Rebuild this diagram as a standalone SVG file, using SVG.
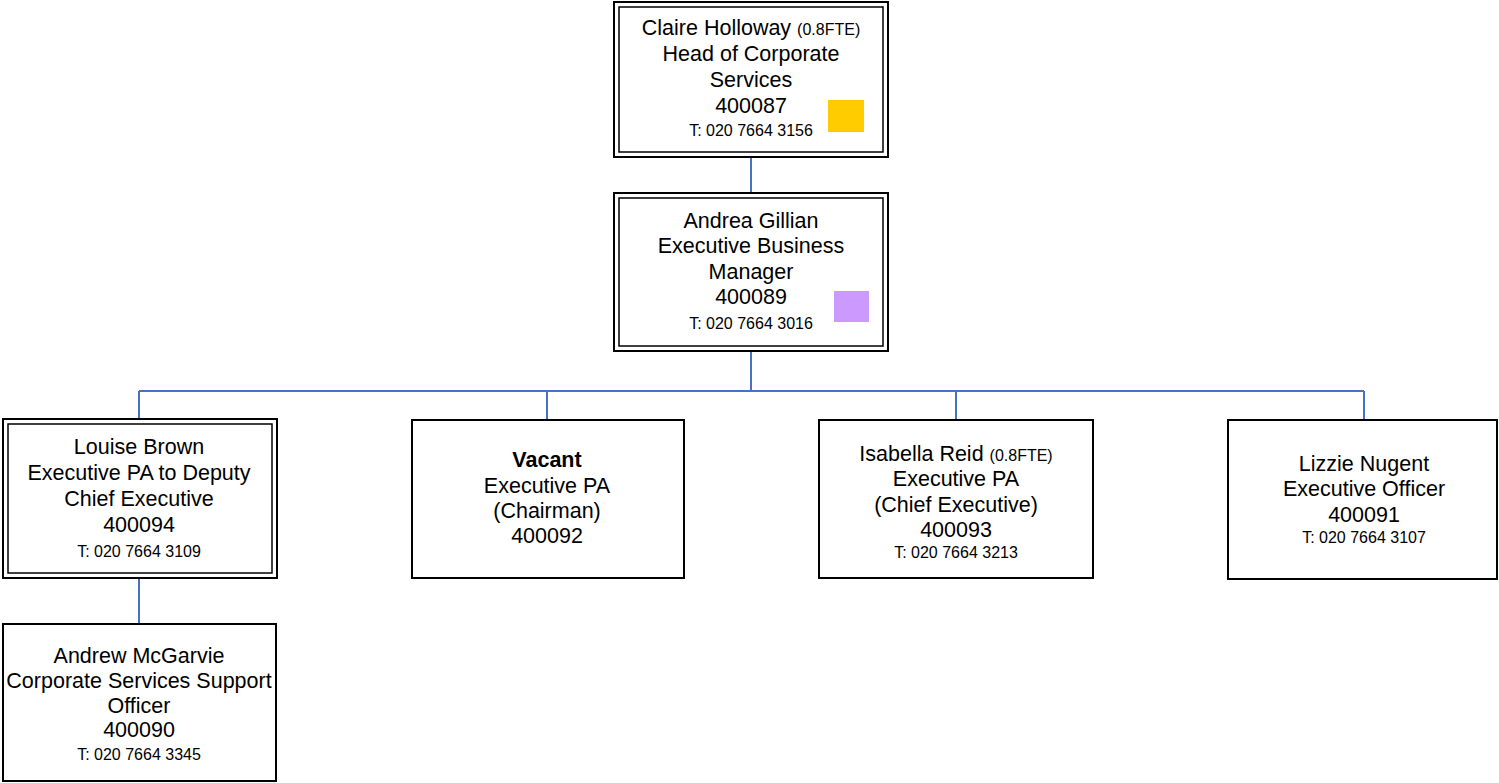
<svg xmlns="http://www.w3.org/2000/svg" width="1499" height="783" viewBox="0 0 1499 783">
<style>
.box{fill:#fff;stroke:#000;stroke-width:2}
.inner{fill:none;stroke:#000;stroke-width:1.5}
.t{font-family:"Liberation Sans",Arial,sans-serif;font-size:21.5px;fill:#000;text-anchor:middle}
.s{font-size:16px}
.b{font-weight:bold}
.conn{fill:none;stroke:#4472C4;stroke-width:2}
</style>
<rect width="1499" height="783" fill="#fff"/>
<g id="connectors">
<path class="conn" d="M751 157V193"/>
<path class="conn" d="M751 351V391M139 391H1364M139 391V419M547 391V420M956 391V420M1364 391V420"/>
<path class="conn" d="M139 578V624"/>
</g>
<g id="claire">
<rect class="box" x="614" y="2" width="274" height="155"/>
<rect class="inner" x="619" y="7" width="264" height="145"/>
<rect x="828" y="100" width="36" height="32" fill="#FFCC00"/>
<text class="t" x="751" y="35">Claire Holloway <tspan class="s">(0.8FTE)</tspan></text>
<text class="t" x="751" y="61">Head of Corporate</text>
<text class="t" x="751" y="87">Services</text>
<text class="t" x="751" y="113">400087</text>
<text class="t s" x="751" y="136">T: 020 7664 3156</text>
</g>
<g id="andrea">
<rect class="box" x="614" y="193" width="274" height="158"/>
<rect class="inner" x="619" y="198" width="264" height="148"/>
<rect x="834" y="291" width="35" height="31" fill="#CC99FF"/>
<text class="t" x="751" y="228">Andrea Gillian</text>
<text class="t" x="751" y="253">Executive Business</text>
<text class="t" x="751" y="279">Manager</text>
<text class="t" x="751" y="304">400089</text>
<text class="t s" x="751" y="329">T: 020 7664 3016</text>
</g>
<g id="louise">
<rect class="box" x="3" y="419" width="274" height="159"/>
<rect class="inner" x="8" y="424" width="264" height="149"/>
<text class="t" x="139" y="454">Louise Brown</text>
<text class="t" x="139" y="480">Executive PA to Deputy</text>
<text class="t" x="139" y="506">Chief Executive</text>
<text class="t" x="139" y="532">400094</text>
<text class="t s" x="139" y="557">T: 020 7664 3109</text>
</g>
<g id="vacant">
<rect class="box" x="412" y="420" width="272" height="158"/>
<text class="t b" x="547" y="467">Vacant</text>
<text class="t" x="547" y="493">Executive PA</text>
<text class="t" x="547" y="518">(Chairman)</text>
<text class="t" x="547" y="543">400092</text>
</g>
<g id="isabella">
<rect class="box" x="819" y="420" width="274" height="158"/>
<text class="t" x="956" y="461">Isabella Reid <tspan class="s">(0.8FTE)</tspan></text>
<text class="t" x="956" y="486">Executive PA</text>
<text class="t" x="956" y="512">(Chief Executive)</text>
<text class="t" x="956" y="537">400093</text>
<text class="t s" x="956" y="558">T: 020 7664 3213</text>
</g>
<g id="lizzie">
<rect class="box" x="1228" y="420" width="269" height="159"/>
<text class="t" x="1364" y="471">Lizzie Nugent</text>
<text class="t" x="1364" y="496">Executive Officer</text>
<text class="t" x="1364" y="522">400091</text>
<text class="t s" x="1364" y="543">T: 020 7664 3107</text>
</g>
<g id="andrew">
<rect class="box" x="3" y="624" width="273" height="157"/>
<text class="t" x="139" y="663">Andrew McGarvie</text>
<text class="t" x="139" y="688">Corporate Services Support</text>
<text class="t" x="139" y="713">Officer</text>
<text class="t" x="139" y="737">400090</text>
<text class="t s" x="139" y="760">T: 020 7664 3345</text>
</g>
</svg>
